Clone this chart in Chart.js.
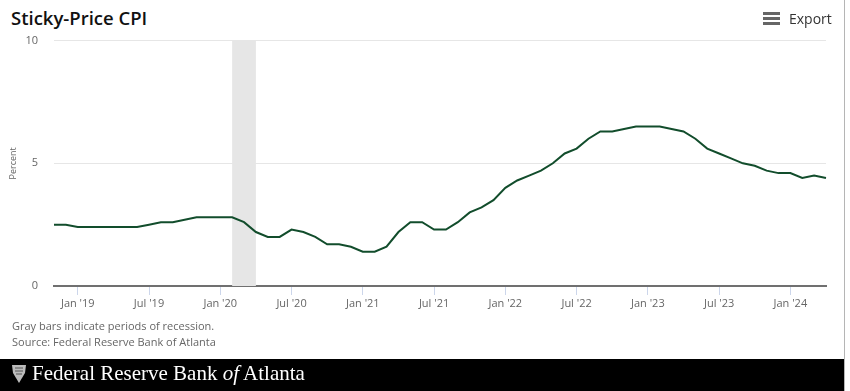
<!DOCTYPE html>
<html>
<head>
<meta charset="utf-8">
<title>Sticky-Price CPI</title>
<script src="https://cdn.jsdelivr.net/npm/chart.js@4.4.0/dist/chart.umd.min.js"></script>
<style>
    body { margin: 0; width: 850px; height: 391px; background: #fff; overflow: hidden; position: relative; font-family: "Open Sans", sans-serif; }
    #title { position: absolute; left: 11px; top: 5px; font-size: 18.5px; font-weight: 600; color: #111; }
    #export { position: absolute; left: 763px; top: 9px; font-size: 14px; color: #333; display: flex; align-items: center; z-index: 2; }
    #export .bars { width: 17px; margin-right: 9px; }
    #export .bars span { display: block; height: 3px; background: #666; margin: 2px 0; }
    #chartBox { position: absolute; left: 0; top: 18px; width: 845px; height: 302px; }
    .note { position: absolute; left: 12px; font-size: 11px; color: #666; }
    #footer { position: absolute; left: 0; top: 359px; width: 844px; height: 32px; background: #000; }
    #footer .name { position: absolute; left: 32px; top: 2px; font-family: "Liberation Serif", serif; font-size: 21px; color: #fff; }
    #footer svg { position: absolute; left: 11px; top: 5px; }
    #edge { position: absolute; left: 844px; top: 0; width: 1px; height: 391px; background: #b5b5b5; }
</style>
</head>
<body>
<div id="title">Sticky-Price CPI</div>
<div id="export"><div class="bars"><span></span><span></span><span></span></div>Export</div>
<div id="chartBox"><canvas id="cpiChart"></canvas></div>
<div class="note" style="top:318px">Gray bars indicate periods of recession.</div>
<div class="note" style="top:334px">Source: Federal Reserve Bank of Atlanta</div>
<div id="footer">
    <svg width="16" height="20" viewBox="0 0 16 20">
        <path d="M1 1 L15 1 L14 9 L8 19 L2 9 Z" fill="#bbb"/>
        <path d="M4 4 L12 4 M4 7 L12 7 M5 10 L11 10" stroke="#555" stroke-width="1"/>
    </svg>
    <div class="name">Federal Reserve Bank <i>of</i> Atlanta</div>
</div>
<div id="edge"></div>

<script>
// ===================================
// DATA
// ===================================

const months = [
    '2018-11', '2018-12',
    '2019-01', '2019-02', '2019-03', '2019-04', '2019-05', '2019-06', '2019-07', '2019-08', '2019-09', '2019-10', '2019-11', '2019-12',
    '2020-01', '2020-02', '2020-03', '2020-04', '2020-05', '2020-06', '2020-07', '2020-08', '2020-09', '2020-10', '2020-11', '2020-12',
    '2021-01', '2021-02', '2021-03', '2021-04', '2021-05', '2021-06', '2021-07', '2021-08', '2021-09', '2021-10', '2021-11', '2021-12',
    '2022-01', '2022-02', '2022-03', '2022-04', '2022-05', '2022-06', '2022-07', '2022-08', '2022-09', '2022-10', '2022-11', '2022-12',
    '2023-01', '2023-02', '2023-03', '2023-04', '2023-05', '2023-06', '2023-07', '2023-08', '2023-09', '2023-10', '2023-11', '2023-12',
    '2024-01', '2024-02', '2024-03', '2024-04'
];

const stickyCpi = [
    2.5, 2.5,
    2.4, 2.4, 2.4, 2.4, 2.4, 2.4, 2.5, 2.6, 2.6, 2.7, 2.8, 2.8,
    2.8, 2.8, 2.6, 2.2, 2.0, 2.0, 2.3, 2.2, 2.0, 1.7, 1.7, 1.6,
    1.4, 1.4, 1.6, 2.2, 2.6, 2.6, 2.3, 2.3, 2.6, 3.0, 3.2, 3.5,
    4.0, 4.3, 4.5, 4.7, 5.0, 5.4, 5.6, 6.0, 6.3, 6.3, 6.4, 6.5,
    6.5, 6.5, 6.4, 6.3, 6.0, 5.6, 5.4, 5.2, 5.0, 4.9, 4.7, 4.6,
    4.6, 4.4, 4.5, 4.4
];

const tickMonths = ['2019-01', '2019-07', '2020-01', '2020-07', '2021-01', '2021-07',
    '2022-01', '2022-07', '2023-01', '2023-07', '2024-01'];
const tickLabels = ["Jan '19", "Jul '19", "Jan '20", "Jul '20", "Jan '21", "Jul '21",
    "Jan '22", "Jul '22", "Jan '23", "Jul '23", "Jan '24"];

const yTicks = [0, 5, 10];

// recession start / end months
const recessions = [['2020-02', '2020-04']];

// ===================================
// RECESSION BANDS
// ===================================

const recessionBands = {
    id: 'recessionBands',
    beforeDatasetsDraw(chart) {
        const { ctx, chartArea, scales } = chart;
        ctx.save();
        ctx.fillStyle = '#e6e6e6';
        recessions.forEach(([from, to]) => {
            const x1 = scales.x.getPixelForValue(months.indexOf(from));
            const x2 = scales.x.getPixelForValue(months.indexOf(to));
            ctx.fillRect(x1, chartArea.top, x2 - x1, chartArea.bottom - chartArea.top);
        });
        ctx.restore();
    }
};

// ===================================
// CHART
// ===================================

const tickFont = { family: '"Open Sans", sans-serif', size: 11 };

new Chart(document.getElementById('cpiChart'), {
    type: 'line',
    data: {
        labels: months,
        datasets: [{
            label: 'Sticky-Price CPI',
            data: stickyCpi,
            borderColor: '#124d2c',
            borderWidth: 2,
            pointRadius: 0,
            tension: 0,
            fill: false
        }]
    },
    options: {
        responsive: true,
        maintainAspectRatio: false,
        animation: false,
        layout: { padding: { top: 2, right: 19, bottom: 0, left: 0 } },
        plugins: {
            legend: { display: false },
            tooltip: { enabled: false }
        },
        scales: {
            x: {
                type: 'category',
                offset: false,
                afterBuildTicks: (scale) => {
                    scale.ticks = tickMonths.map(m => ({ value: months.indexOf(m) }));
                },
                afterFit: (scale) => { scale.height = 34; },
                ticks: {
                    autoSkip: false,
                    maxRotation: 0,
                    padding: 2,
                    color: '#666',
                    font: tickFont,
                    callback: (value, index) => tickLabels[index]
                },
                grid: {
                    drawOnChartArea: false,
                    drawTicks: true,
                    tickLength: 9,
                    tickColor: '#ccd6eb'
                },
                border: { display: true, color: '#707070', width: 2 }
            },
            y: {
                min: 0,
                max: 10,
                afterBuildTicks: (scale) => {
                    scale.ticks = yTicks.map(v => ({ value: v }));
                },
                afterFit: (scale) => { scale.width = 54; },
                ticks: {
                    padding: 16,
                    color: '#666',
                    font: tickFont
                },
                grid: {
                    color: '#e6e6e6',
                    drawTicks: false
                },
                border: { display: false },
                title: {
                    display: true,
                    text: 'Percent',
                    color: '#666',
                    font: { family: '"Open Sans", sans-serif', size: 9 },
                    padding: { top: 8, bottom: 0 }
                }
            }
        }
    },
    plugins: [recessionBands]
});
</script>
</body>
</html>
